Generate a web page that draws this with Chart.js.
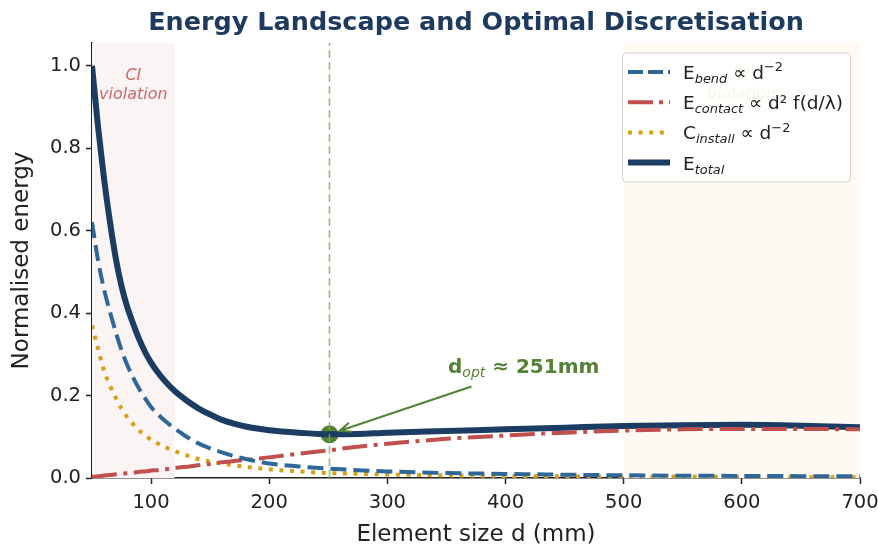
<!DOCTYPE html>
<html>
<head>
<meta charset="utf-8">
<script src="https://cdn.jsdelivr.net/npm/chart.js@4.4.0/dist/chart.umd.min.js"></script>
<style>
    html, body { margin: 0; padding: 0; background: #fff; }
    canvas { display: block; }
</style>
</head>
<body>
<canvas id="chartEnergy" width="878" height="549"></canvas>
<script>
// element size d (mm) and the normalised energies
var elementSize   = [50, 55, 60, 65, 70, 75, 80, 85, 90, 95, 100, 105, 110, 115, 120, 125, 130,
                     140, 150, 160, 170, 180, 190, 200, 225, 250, 275, 300, 350, 400, 450, 500, 550, 600, 650, 700];
var energyBend    = [0.620, 0.530, 0.460, 0.405, 0.355, 0.310, 0.273, 0.242, 0.216, 0.193, 0.172, 0.157, 0.143, 0.131, 0.120, 0.110, 0.100,
                     0.084, 0.072, 0.062, 0.053, 0.046, 0.040, 0.035, 0.028, 0.023, 0.019, 0.016, 0.012, 0.010, 0.008, 0.0065, 0.0055, 0.005, 0.0045, 0.004];
var energyContact = [0.003, 0.004, 0.006, 0.007, 0.009, 0.010, 0.012, 0.013, 0.015, 0.016, 0.018, 0.019, 0.021, 0.022, 0.024, 0.026, 0.027,
                     0.031, 0.034, 0.038, 0.041, 0.044, 0.047, 0.050, 0.059, 0.067, 0.076, 0.083, 0.095, 0.103, 0.110, 0.115, 0.118, 0.119, 0.119, 0.118];
var costInstall   = [0.370, 0.315, 0.262, 0.225, 0.195, 0.168, 0.147, 0.130, 0.115, 0.103, 0.093, 0.085, 0.077, 0.071, 0.065, 0.060, 0.055,
                     0.046, 0.040, 0.035, 0.031, 0.027, 0.024, 0.021, 0.016, 0.012, 0.010, 0.0085, 0.0065, 0.005, 0.004, 0.0035, 0.003, 0.0025, 0.002, 0.002];
var energyTotal   = [1.000, 0.855, 0.730, 0.625, 0.535, 0.465, 0.413, 0.373, 0.336, 0.305, 0.280, 0.259, 0.241, 0.225, 0.211, 0.199, 0.188,
                     0.169, 0.154, 0.141, 0.132, 0.125, 0.120, 0.116, 0.110, 0.106, 0.107, 0.110, 0.114, 0.118, 0.122, 0.126, 0.128, 0.129, 0.127, 0.123];

var optSize = 251;
var optEnergy = 0.106;
var optLine = [0, 1.055];

var xTicks = [100, 200, 300, 400, 500, 600, 700];
var yTicks = [0.0, 0.2, 0.4, 0.6, 0.8, 1.0];

var regionCI = [50, 120];
var regionTI = [500, 700];

var titleText = 'Energy Landscape and Optimal Discretisation';
var xTitle = 'Element size d (mm)';
var yTitle = 'Normalised energy';

var legendLabels = [
    [['E', ''], ['bend', 'sub'], [' \u221d d', ''], ['\u22122', 'sup']],
    [['E', ''], ['contact', 'sub'], [' \u221d d\u00b2 f(d/\u03bb)', '']],
    [['C', ''], ['install', 'sub'], [' \u221d d', ''], ['\u22122', 'sup']],
    [['E', ''], ['total', 'sub']]
];

var FONT = '"DejaVu Sans", sans-serif';
var colBend = '#2f6798';
var colContact = '#c0504d';
var colInstall = '#d4a017';
var colTotal = '#1c3d63';
var colGreen = '#548235';

function pairs(ys) {
    return elementSize.map(function (d, i) { return {x: d, y: ys[i]}; });
}

function drawRuns(ctx, runs, x, y, size, weight) {
    runs.forEach(function (r) {
        var small = r[1] !== '';
        var s = small ? size * 0.7 : size;
        var style = r[1] === 'sub' ? 'italic ' : '';
        var w = r[1] === 'sub' ? 'normal' : weight;
        ctx.font = style + w + ' ' + s + 'px ' + FONT;
        var dy = r[1] === 'sub' ? size * 0.22 : (r[1] === 'sup' ? -size * 0.42 : 0);
        ctx.fillText(r[0], x, y + dy);
        x += ctx.measureText(r[0]).width;
    });
    return x;
}

// shaded regions and their labels, under the curves
var regionsPlugin = {
    id: 'regions',
    beforeDatasetsDraw: function (chart) {
        var ctx = chart.ctx, a = chart.chartArea, xs = chart.scales.x;
        ctx.save();
        ctx.fillStyle = '#faf4f4';
        ctx.fillRect(xs.getPixelForValue(regionCI[0]), a.top, xs.getPixelForValue(regionCI[1]) - xs.getPixelForValue(regionCI[0]), a.bottom - a.top);
        ctx.fillStyle = '#fefaf3';
        ctx.fillRect(xs.getPixelForValue(regionTI[0]), a.top, xs.getPixelForValue(regionTI[1]) - xs.getPixelForValue(regionTI[0]), a.bottom - a.top);

        ctx.textAlign = 'center';
        ctx.textBaseline = 'alphabetic';
        ctx.font = 'italic 16px ' + FONT;
        var cx = xs.getPixelForValue((regionCI[0] + regionCI[1]) / 2);
        ctx.fillStyle = 'rgba(192, 80, 77, 0.85)';
        ctx.fillText('CI', cx, 80);
        ctx.fillText('violation', cx, 99);
        var tx = xs.getPixelForValue((regionTI[0] + regionTI[1]) / 2);
        ctx.fillStyle = 'rgba(214, 170, 90, 0.85)';
        ctx.fillText('TI', tx, 80);
        ctx.fillText('violation', tx, 99);
        ctx.restore();
    }
};

// title, annotation arrow and legend on top
var overlayPlugin = {
    id: 'overlay',
    afterDraw: function (chart) {
        var ctx = chart.ctx, xs = chart.scales.x, ys = chart.scales.y;
        ctx.save();

        ctx.fillStyle = '#1f3a5f';
        ctx.textAlign = 'center';
        ctx.textBaseline = 'alphabetic';
        ctx.font = 'bold 25.5px ' + FONT;
        ctx.fillText(titleText, (chart.chartArea.left + chart.chartArea.right) / 2, 30);

        // arrow from label to optimum
        var px = xs.getPixelForValue(optSize), py = ys.getPixelForValue(optEnergy);
        var tx = 471.5, ty = 386.5;
        var dx = px - tx, dy = py - ty, len = Math.sqrt(dx * dx + dy * dy);
        var ux = dx / len, uy = dy / len;
        var hx = px - ux * 11, hy = py - uy * 11;
        ctx.strokeStyle = colGreen;
        ctx.lineWidth = 2;
        ctx.beginPath();
        ctx.moveTo(tx, ty);
        ctx.lineTo(hx, hy);
        var ang = Math.atan2(uy, ux);
        ctx.moveTo(hx - 12 * Math.cos(ang - 0.4), hy - 12 * Math.sin(ang - 0.4));
        ctx.lineTo(hx, hy);
        ctx.lineTo(hx - 12 * Math.cos(ang + 0.4), hy - 12 * Math.sin(ang + 0.4));
        ctx.stroke();

        ctx.fillStyle = colGreen;
        ctx.textAlign = 'left';
        drawRuns(ctx, [['d', ''], ['opt', 'sub'], [' \u2248 ' + optSize + 'mm', '']], 448, 373, 20, 'bold');

        // legend
        var lx = 622.5, ly = 53, lw = 228, lh = 129;
        ctx.fillStyle = 'rgba(255,255,255,0.85)';
        ctx.strokeStyle = '#d0d0d0';
        ctx.lineWidth = 1;
        ctx.beginPath();
        ctx.roundRect(lx, ly, lw, lh, 4);
        ctx.fill();
        ctx.stroke();

        var styles = [
            {c: colBend, w: 4, dash: [15, 5]},
            {c: colContact, w: 4, dash: [25, 6, 4, 6]},
            {c: colInstall, w: 4, dash: [4, 6.6]},
            {c: colTotal, w: 6, dash: []}
        ];
        legendLabels.forEach(function (runs, i) {
            var cy = 72 + i * 30.2;
            var s = styles[i];
            ctx.strokeStyle = s.c;
            ctx.lineWidth = s.w;
            ctx.lineCap = 'butt';
            ctx.setLineDash(s.dash);
            ctx.beginPath();
            ctx.moveTo(628, cy);
            ctx.lineTo(670, cy);
            ctx.stroke();
            ctx.setLineDash([]);
            ctx.fillStyle = '#222';
            drawRuns(ctx, runs, 683, cy + 7, 18.5, 'normal');
        });
        ctx.restore();
    }
};

var canvas = document.querySelector('#chartEnergy').getContext('2d');

var energyChart = new Chart(canvas, {
    type: 'line',
    data: {
        datasets: [{
            label: 'd_opt line',
            data: optLine.map(function (v) { return {x: optSize, y: v}; }),
            borderColor: 'rgba(120, 175, 90, 0.8)',
            borderWidth: 1.6,
            borderDash: [8, 4],
            pointRadius: 0
        }, {
            label: 'E_bend',
            data: pairs(energyBend),
            borderColor: colBend,
            borderWidth: 4,
            borderDash: [16, 7],
            pointRadius: 0,
            cubicInterpolationMode: 'monotone'
        }, {
            label: 'E_contact',
            data: pairs(energyContact),
            borderColor: colContact,
            borderWidth: 4,
            borderDash: [25, 6.5, 4, 6.5],
            pointRadius: 0,
            cubicInterpolationMode: 'monotone'
        }, {
            label: 'C_install',
            data: pairs(costInstall),
            borderColor: colInstall,
            borderWidth: 4,
            borderDash: [4, 6.6],
            pointRadius: 0,
            cubicInterpolationMode: 'monotone'
        }, {
            label: 'E_total',
            data: pairs(energyTotal),
            borderColor: colTotal,
            borderWidth: 6,
            pointRadius: 0,
            cubicInterpolationMode: 'monotone'
        }, {
            label: 'd_opt',
            data: [{x: optSize, y: optEnergy}],
            showLine: false,
            pointRadius: 9,
            pointBackgroundColor: colGreen,
            pointBorderColor: colGreen,
            pointBorderWidth: 0
        }]
    },
    options: {
        responsive: false,
        animation: false,
        events: [],
        layout: {padding: {top: 43, right: 18, left: 0, bottom: 0}},
        plugins: {legend: {display: false}, tooltip: {enabled: false}, title: {display: false}},
        scales: {
            x: {
                type: 'linear',
                min: 50,
                max: 700,
                afterBuildTicks: function (scale) {
                    scale.ticks = xTicks.map(function (v) { return {value: v}; });
                },
                afterFit: function (scale) {
                    scale.height = 71;
                    scale.paddingLeft = 0;
                    scale.paddingRight = 0;
                },
                grid: {display: true, drawOnChartArea: false, drawTicks: true, tickLength: 6, tickWidth: 1.5, color: '#222'},
                border: {display: true, color: '#222', width: 1.5},
                ticks: {
                    color: '#222',
                    font: {family: FONT, size: 19.5},
                    padding: 7,
                    maxRotation: 0,
                    callback: function (v) { return String(v); }
                },
                title: {display: true, text: xTitle, color: '#222', font: {family: FONT, size: 23}, padding: {top: 0, bottom: 0}}
            },
            y: {
                type: 'linear',
                min: 0,
                max: 1.055,
                afterBuildTicks: function (scale) {
                    scale.ticks = yTicks.map(function (v) { return {value: v}; });
                },
                afterFit: function (scale) {
                    scale.width = 92;
                },
                grid: {display: true, drawOnChartArea: false, drawTicks: true, tickLength: 6, tickWidth: 1.5, color: '#222'},
                border: {display: true, color: '#222', width: 1.5},
                ticks: {
                    color: '#222',
                    font: {family: FONT, size: 19.5},
                    padding: 5,
                    callback: function (v) { return v.toFixed(1); }
                },
                title: {display: true, text: yTitle, color: '#222', font: {family: FONT, size: 23}, padding: {top: 8, bottom: 0}}
            }
        }
    },
    plugins: [regionsPlugin, overlayPlugin]
});
</script>
</body>
</html>
